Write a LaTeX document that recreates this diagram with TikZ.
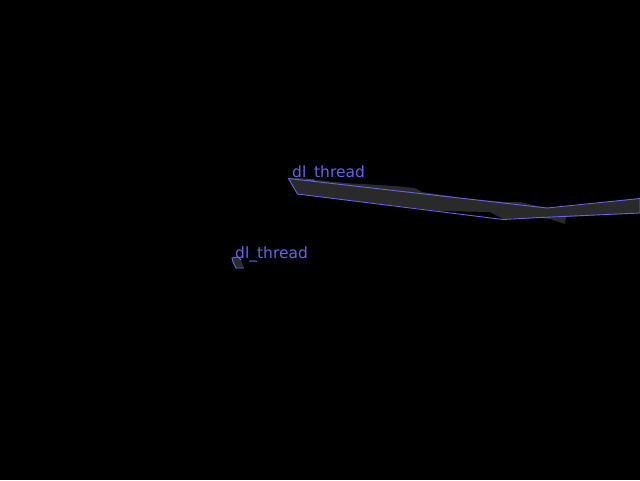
\documentclass[tikz,border=0pt]{standalone}
\usepackage{fontspec}
\setmainfont{DejaVu Sans}
\definecolor{lineblue}{RGB}{100,100,230}
\definecolor{fillgray}{RGB}{42,42,42}
\begin{document}
\begin{tikzpicture}[x=1pt,y=-1pt,
  label/.style={font=\fontsize{15.5}{15.5}\selectfont, text=lineblue, inner sep=0pt, anchor=base west},
  outline/.style={draw=lineblue, line width=0.9pt, line join=miter}]
\fill[black] (0,0) rectangle (640,480);
\useasboundingbox (0,0) rectangle (640,480);
% big shape fill
\fill[fillgray] (288,178) -- (300,178) -- (345,183) -- (395,186) -- (415,188) -- (422,192)
  -- (470,199) -- (505,202) -- (520,202) -- (537,206) -- (550,208) -- (600,203) -- (640,198)
  -- (640,213) -- (600,215) -- (566,217) -- (565,224) -- (550,219) -- (540,218) -- (503,219)
  -- (490,212) -- (440,211) -- (298,194) -- cycle;
\draw[outline] (288.5,178.5) -- (547,208) -- (640,198.5) -- (640,213) -- (540,217.5)
  -- (503,219.5) -- (297.5,194) -- cycle;
% small shape
\fill[fillgray] (232,258) -- (238,257) -- (241,260) -- (244,268) -- (236,268) -- (233,262) -- cycle;
\draw[outline] (244,268) -- (236,268) -- (233,262) -- (232,258) -- (238,257) -- (241,260);
% labels
\node[label] (lab1) at (292,177.5) {dl\_thread};
\node[label] (lab2) at (235,258.5) {dl\_thread};
\end{tikzpicture}
\end{document}
